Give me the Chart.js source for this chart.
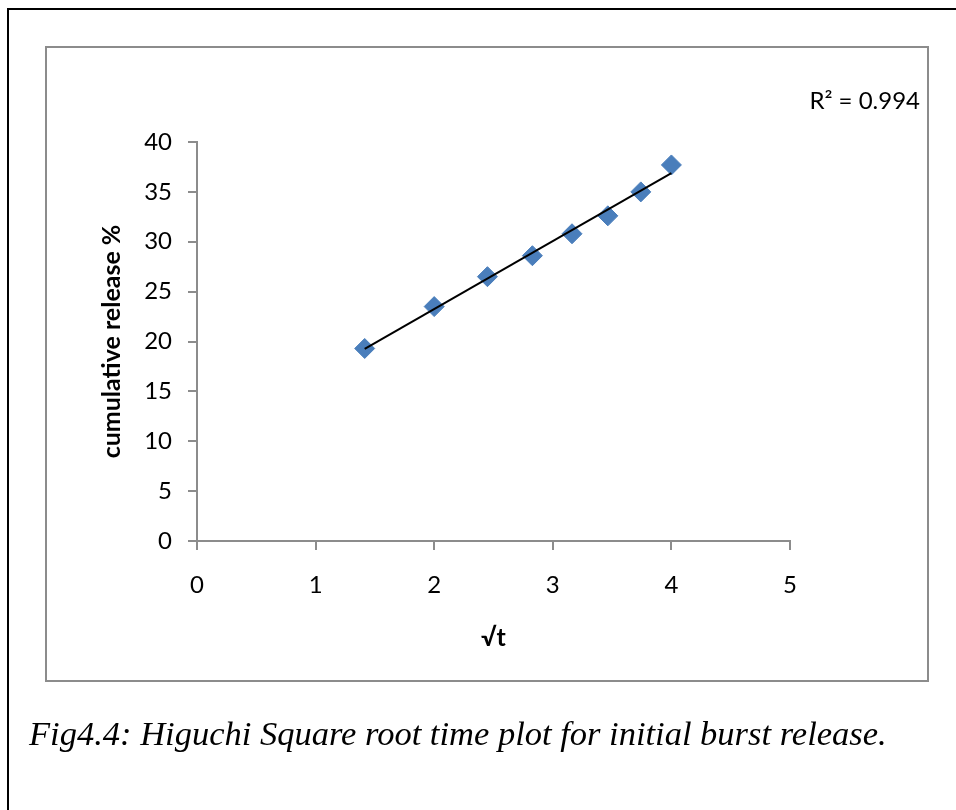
<!DOCTYPE html>
<html>
<head>
<meta charset="utf-8">
<script src="https://cdn.jsdelivr.net/npm/chart.js@4"></script>
<style>
  body { margin: 0; background: #fff; }
  #page { position: relative; width: 956px; height: 810px; overflow: hidden; }
  #outer { position: absolute; left: 7px; top: 8px; width: 960px; height: 820px; border: 2px solid #000; box-sizing: border-box; }
  #inner { position: absolute; left: 45px; top: 46px; width: 884px; height: 636px; border: 2px solid #8c8c8c; box-sizing: border-box; }
  #wrap { position: absolute; left: 0; top: 0; width: 956px; height: 810px; }
  #caption { position: absolute; left: 29px; top: 714px; font: italic 34.5px "Liberation Serif", "Times New Roman", serif; color: #000; white-space: nowrap; }
</style>
</head>
<body>
<div id="page">
  <div id="outer"></div>
  <div id="inner"></div>
  <div id="wrap"><canvas id="chart" width="956" height="810"></canvas></div>
  <div id="caption">Fig4.4: Higuchi Square root time plot for initial burst release.</div>
</div>
<script>
// values
const sqrtT = [1.414, 2, 2.449, 2.828, 3.162, 3.464, 3.742, 4];
const cumulativeRelease = [19.3, 23.5, 26.5, 28.6, 30.8, 32.6, 35.0, 37.7];
// linear trendline end points (as drawn)
const trendX = [1.414, 4];
const trendY = [19.25, 36.87];
const rSquared = '0.994';

const axisGray = '#8c8c8c';
const fontFamily = 'Lato, "Open Sans", sans-serif';

const r2Label = {
    id: 'r2Label',
    afterDraw(chart) {
        const ctx = chart.ctx;
        ctx.save();
        ctx.font = '24px ' + fontFamily;
        ctx.fillStyle = '#000';
        ctx.textAlign = 'right';
        ctx.textBaseline = 'alphabetic';
        ctx.fillText('R\u00B2 = ' + rSquared, 920, 109);
        ctx.restore();
    }
};

new Chart(document.getElementById('chart'), {
    type: 'scatter',
    data: {
        datasets: [{
            label: 'cumulative release',
            data: sqrtT.map((x, i) => ({ x: x, y: cumulativeRelease[i] })),
            pointStyle: 'rectRot',
            pointRadius: 10,
            pointHoverRadius: 10,
            backgroundColor: '#4a7ebb',
            borderColor: '#4a7ebb',
            borderWidth: 1,
            order: 2
        }, {
            type: 'line',
            label: 'trend',
            data: trendX.map((x, i) => ({ x: x, y: trendY[i] })),
            borderColor: '#000',
            borderWidth: 2,
            pointRadius: 0,
            fill: false,
            order: 1
        }]
    },
    options: {
        responsive: false,
        animation: false,
        devicePixelRatio: 1,
        layout: { padding: { left: 97, right: 166, top: 142, bottom: 157 } },
        plugins: {
            legend: { display: false },
            tooltip: { enabled: false }
        },
        scales: {
            x: {
                type: 'linear',
                min: 0, max: 5,
                ticks: { stepSize: 1, color: '#000', padding: 21, font: { family: fontFamily, size: 24 } },
                grid: { drawOnChartArea: false, tickLength: 9, color: axisGray, lineWidth: 2 },
                border: { color: axisGray, width: 2 },
                title: { display: true, text: '\u221At', color: '#000', padding: 0, font: { family: fontFamily, size: 25, weight: 'bold' } },
                afterFit(scale) { scale.height = 112; }
            },
            y: {
                min: 0, max: 40,
                ticks: { stepSize: 5, color: '#000', padding: 16, font: { family: fontFamily, size: 24 } },
                grid: { drawOnChartArea: false, tickLength: 9, color: axisGray, lineWidth: 2 },
                border: { color: axisGray, width: 2 },
                title: { display: true, text: 'cumulative release %', color: '#000', padding: { top: 0 }, font: { family: fontFamily, size: 25, weight: 'bold' } },
                afterFit(scale) { scale.width = 100; }
            }
        }
    },
    plugins: [r2Label]
});
</script>
</body>
</html>
